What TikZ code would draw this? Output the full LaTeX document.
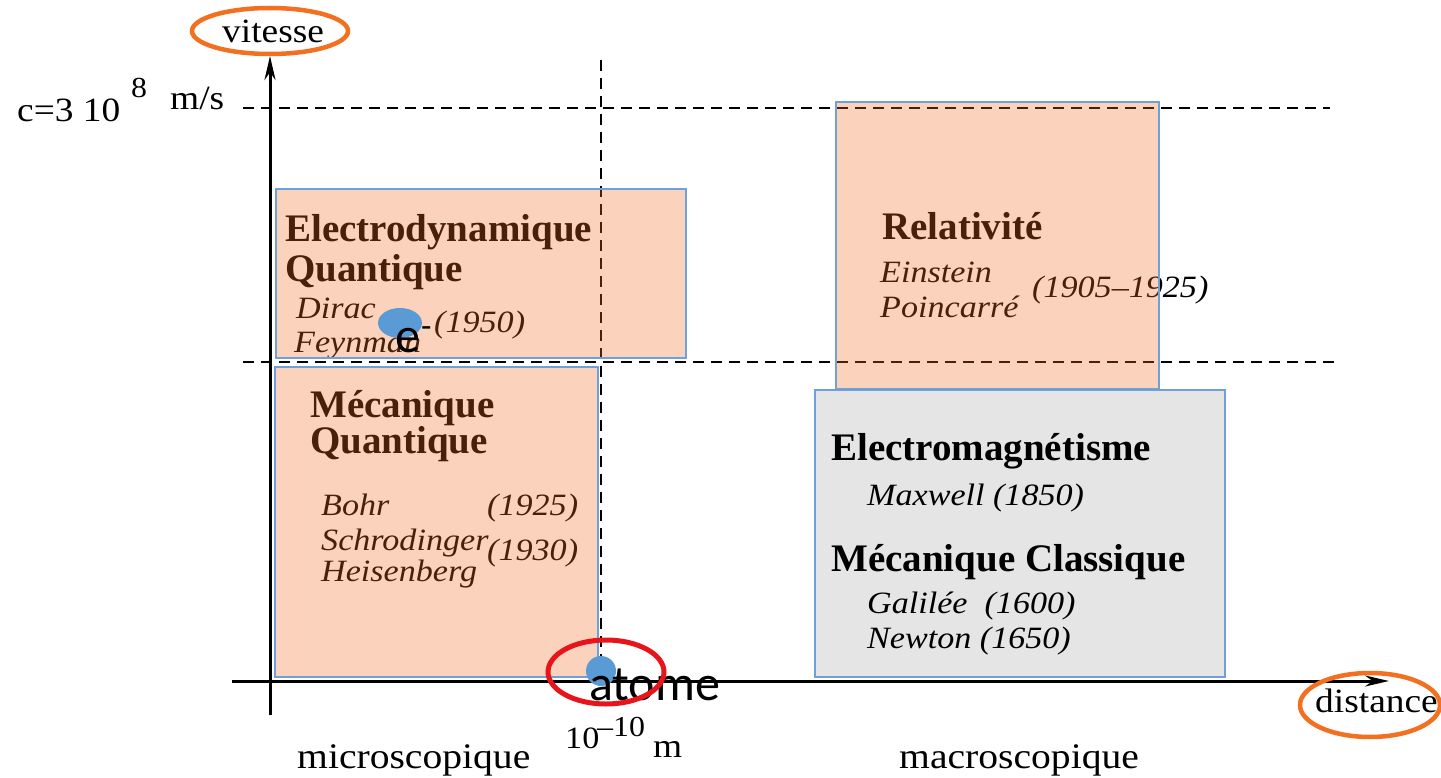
\documentclass[tikz,border=0pt]{standalone}
\usepackage{fontspec}
\setmainfont{Liberation Serif}
\newfontfamily\stretchser[FakeStretch=1.1]{Liberation Serif}
\newfontfamily\calfont{Carlito}
\usetikzlibrary{arrows.meta}
\definecolor{peach}{RGB}{242,106,30}
\definecolor{boxblue}{RGB}{111,160,220}
\definecolor{ringorange}{RGB}{243,112,33}
\definecolor{ringred}{RGB}{232,20,27}
\definecolor{dotblue}{RGB}{91,155,213}
\tikzset{
  title/.style={anchor=base west, inner sep=0pt, font=\bfseries\fontsize{39}{41}\selectfont},
  who/.style={anchor=base west, inner sep=0pt, font=\stretchser\itshape\fontsize{31}{33}\selectfont},
  lbl/.style={anchor=base west, inner sep=0pt, font=\stretchser\fontsize{#1}{#1}\selectfont},
  axis/.style={line width=3pt, -{Stealth[length=24pt,width=11pt]}},
  guide/.style={line width=2.5pt, dash pattern=on 11pt off 7pt},
  warmbox/.style={draw=boxblue, line width=1.5pt, fill=peach, fill opacity=0.3},
  greybox/.style={draw=boxblue, line width=1.5pt, fill=black, fill opacity=0.1},
  ring/.style={line width=4.5pt},
  dot/.style={fill=dotblue, draw=none},
  pp/.style={inner sep=0pt, font=\calfont\fontsize{50}{50}\selectfont}
}
\begin{document}
\begin{tikzpicture}[x=1pt,y=-1pt]
\useasboundingbox (0,0) rectangle (1441,778);
\fill[white] (0,0) rectangle (1441,778);

% ---------- guides and axes ----------
\coordinate (cL) at (243,108);  \coordinate (cR) at (1330,108);
\coordinate (mL) at (243,362);  \coordinate (mR) at (1338,362);
\coordinate (aT) at (601,60);   \coordinate (aB) at (601,681);
\draw[guide] (cL) -- (cR);
\draw[guide] (mL) -- (mR);
\draw[guide] (aT) -- (aB);

\coordinate (yb) at (270,715); \coordinate (yt) at (270,56);
\coordinate (xl) at (232,681); \coordinate (xr) at (1389,681);
\draw[axis] (yb) -- (yt);
\draw[axis] (xl) -- (xr);

% ---------- axis labels ----------
\node[lbl=34] (vit) at (222,43) {vitesse};
\node[lbl=34] (dist) at (1315,712) {distance};
\node[lbl=34] (c1) at (17,122) {c=3 10};
\node[lbl=29] (c2) at (131,98) {8};
\node[lbl=34] (c3) at (170,110) {m/s};
\node[lbl=31] (t1) at (565,748) {10};
\node[lbl=29] (t2) at (597,736) {\char"2013 10};
\node[lbl=34] (t3) at (653,757) {m};
\node[lbl=36] (micro) at (297,768) {microscopique};
\node[lbl=36] (macro) at (899,768) {macroscopique};

% ---------- Electrodynamique quantique ----------
\node[title] (eq1) at (285,242) {Electrodynamique};
\node[title] (eq2) at (285,281) {Quantique};
\node[who] (dirac) at (296,318) {Dirac};
\node[who] (feyn) at (294,352) {Feynman};
\node[who] (y1950) at (434,332) {(1950)};

% ---------- Mecanique quantique ----------
\node[title] (mq1) at (310,417) {Mécanique};
\node[title] (mq2) at (310,453) {Quantique};
\node[who] (bohr) at (321,515) {Bohr};
\node[who] (y1925) at (487,515) {(1925)};
\node[who] (schr) at (321,550) {Schrodinger};
\node[who] (y1930) at (487,560) {(1930)};
\node[who] (heis) at (321,581) {Heisenberg};

% ---------- Relativite ----------
\node[title] (rel) at (882,240) {Relativité};
\node[who] (ein) at (880,283) {Einstein};
\node[who] (poi) at (880,317) {Poincarré};
\node[who] (yrel) at (1032,298) {(1905\char"2013 1925)};

% ---------- classique ----------
\node[title] (em) at (831,460) {Electromagnétisme};
\node[who] (max) at (867,505) {Maxwell (1850)};
\node[title] (mc) at (831,571) {Mécanique Classique};
\node[who] (gal) at (867,613) {Galilée\ \ (1600)};
\node[who] (newt) at (867,648) {Newton (1650)};

% ---------- boxes (translucent overlays) ----------
\path[warmbox] (276,189) rectangle (686,358);
\path[warmbox] (275,367) rectangle (598,677);
\path[warmbox] (836,102) rectangle (1159,389);
\path[greybox] (815,390) rectangle (1225,677);

% ---------- annotations ----------
\fill[dot] (400,323) ellipse [x radius=22pt, y radius=15pt];
\node[pp, anchor=base west] (elec) at (395,352) {e};
\node[pp, anchor=base west, font=\calfont\fontsize{34}{34}\selectfont] (minus) at (421,337) {-};

\coordinate (atc) at (606,672);
\fill[dot] (601,671) circle [radius=15pt];
\node[pp, anchor=base west] (atome) at (589,700) {atome};
\draw[ring, ringred, line width=5pt] (atc) ellipse [x radius=58pt, y radius=32pt];

\coordinate (vc) at (270,31);
\draw[ring, ringorange] (vc) ellipse [x radius=78pt, y radius=23pt];
\coordinate (dc) at (1370,705);
\draw[ring, ringorange] (dc) ellipse [x radius=70pt, y radius=32pt];
\end{tikzpicture}
\end{document}
